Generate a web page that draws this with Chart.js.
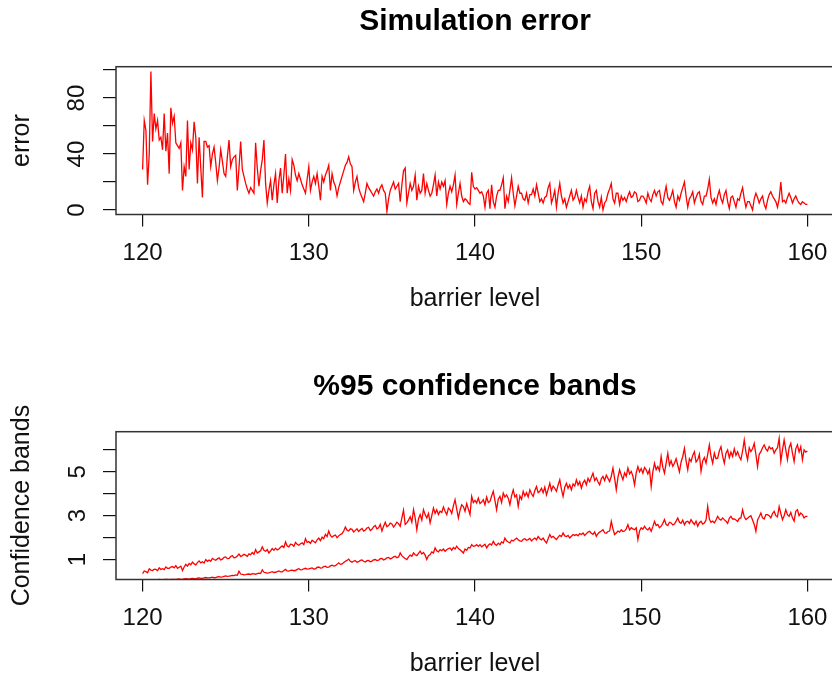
<!DOCTYPE html>
<html>
<head>
<meta charset="utf-8">
<title>Simulation error</title>
<script src="https://cdn.jsdelivr.net/npm/chart.js@4.4.1/dist/chart.umd.min.js"></script>
<style>
  html, body { margin: 0; padding: 0; background: #fff; }
  #page { position: relative; width: 832px; height: 677px; overflow: hidden; }
  #page canvas { position: absolute; left: 0; }
  #errorChart { top: 0; }
  #bandChart { top: 365px; }
</style>
</head>
<body>
<div id="page">
  <canvas id="errorChart" width="840" height="365"></canvas>
  <canvas id="bandChart" width="840" height="365"></canvas>
</div>
<script>
// barrier level goes 120 -> 160 in steps of 0.1
const barrierStart = 120;
const barrierStep = 0.1;

// simulation error (each row = 2 barrier units)
const simError = [
  29, 64, 57, 18, 40, 99, 49, 69, 58, 64, 50, 52, 43, 69, 42, 55, 26, 73, 62, 67,
  48, 46, 44, 48, 14, 31, 24, 64, 29, 48, 43, 63, 52, 19, 52, 30, 9, 49, 49, 45,
  46, 31, 40, 45, 34, 21, 30, 43, 35, 26, 24, 38, 50, 31, 36, 38, 39, 14, 30, 49,
  29, 24, 19, 15, 12, 16, 14, 12, 48, 30, 17, 28, 36, 50, 19, 5, 14, 21, 7, 18,
  26, 5, 21, 30, 12, 25, 40, 12, 22, 14, 36, 32, 25, 21, 26, 22, 18, 15, 12, 22,
  31, 14, 20, 24, 19, 26, 17, 7, 24, 20, 25, 28, 32, 14, 26, 20, 17, 10, 16, 20,
  24, 28, 32, 34, 38, 33, 31, 14, 20, 24, 16, 12, 9, 6, 12, 19, 16, 14, 12, 10,
  13, 15, 12, 16, 18, 14, 12, -1, 8, 14, 17, 20, 15, 17, 19, 6, 18, 28, 30, 5,
  12, 19, 14, 17, 25, 7, 17, 12, 14, 26, 12, 19, 14, 10, 12, 18, 25, 10, 20, 15,
  20, 17, 21, 4, 12, 17, 13, 18, 25, 4, 12, 19, 10, 6, 8, 7, 5, 4, 27, 17,
  15, 16, 14, 12, 13, 10, 2, 12, 14, 1, 18, 6, 2, 10, 14, 14, 18, 23, 1, 10,
  6, 14, 23, 12, 3, 10, 17, 12, 12, 8, 7, 12, 5, 11, 11, 15, 10, 18, 12, 6,
  8, 5, 9, 10, 16, 19, 5, 9, 14, 2, 12, 19, 10, 5, 8, 2, 6, 10, 14, 7,
  9, 14, 9, 5, 10, 2, 8, 6, 13, 17, 6, 1, 12, 14, 6, 2, 9, 0, 5, 7,
  12, 15, 19, 8, 5, 12, 12, 4, 10, 7, 9, 6, 10, 13, 9, 10, 13, 12, 6, 7,
  10, 10, 8, 5, 12, 8, 6, 11, 14, 10, 13, 14, 6, 4, 11, 17, 9, 7, 10, 14,
  6, 2, 10, 7, 12, 16, 20, 10, 2, 8, 10, 13, 5, 9, 12, 13, 6, 4, 10, 10,
  15, 22, 9, 5, 8, 4, 10, 14, 8, 5, 11, 14, 6, 1, 9, 10, 6, 2, 8, 7,
  12, 16, 8, 2, 6, 6, 3, 0, 8, 12, 9, 5, 8, 10, 4, 1, 7, 11, 13, 10,
  8, 6, 2, 8, 20, 6, 7, 5, 9, 12, 9, 5, 8, 10, 7, 5, 4, 6, 5, 4,
  4
];

// upper 95% band
const upperBand = [
  0.36, 0.48, 0.45, 0.40, 0.58, 0.52, 0.50, 0.56, 0.55, 0.50, 0.62, 0.55, 0.58, 0.54, 0.66, 0.60, 0.60, 0.66, 0.68, 0.62,
  0.72, 0.60, 0.65, 0.70, 0.50, 0.66, 0.78, 0.70, 0.82, 0.76, 0.88, 0.80, 0.76, 0.86, 0.94, 0.85, 0.90, 0.84, 1.00, 0.92,
  0.98, 0.92, 1.05, 1.00, 0.97, 1.03, 1.08, 0.98, 1.02, 1.10, 1.12, 1.04, 1.05, 1.14, 1.18, 1.08, 1.10, 1.16, 1.25, 1.14,
  1.18, 1.24, 1.20, 1.15, 1.26, 1.22, 1.32, 1.24, 1.45, 1.30, 1.35, 1.40, 1.58, 1.42, 1.38, 1.45, 1.30, 1.40, 1.50, 1.42,
  1.52, 1.44, 1.48, 1.56, 1.62, 1.55, 1.80, 1.62, 1.58, 1.70, 1.68, 1.60, 1.78, 1.70, 1.65, 1.72, 1.76, 1.68, 1.95, 1.78,
  1.82, 1.74, 1.88, 1.82, 1.76, 1.90, 1.98, 1.86, 2.02, 1.95, 2.15, 2.05, 2.30, 2.10, 2.02, 2.08, 2.12, 2.00, 2.08, 2.14,
  2.18, 2.30, 2.48, 2.34, 2.30, 2.40, 2.38, 2.26, 2.33, 2.40, 2.28, 2.36, 2.42, 2.30, 2.35, 2.44, 2.47, 2.32, 2.38, 2.50,
  2.55, 2.40, 2.45, 2.60, 2.30, 2.52, 2.70, 2.50, 2.55, 2.66, 2.62, 2.48, 2.58, 2.70, 2.64, 2.52, 2.90, 3.25, 2.60, 2.67,
  2.80, 2.95, 2.70, 3.27, 2.90, 2.36, 2.85, 3.05, 2.80, 3.27, 3.05, 2.90, 3.10, 2.67, 3.00, 3.35, 3.10, 3.27, 3.05, 3.20,
  3.15, 3.40, 3.20, 3.05, 3.35, 3.27, 3.10, 3.45, 3.73, 3.30, 2.90, 3.25, 3.50, 3.42, 3.20, 3.55, 3.30, 3.05, 3.88, 3.60,
  3.70, 3.58, 3.80, 3.55, 3.62, 3.73, 3.50, 3.85, 3.60, 3.65, 3.90, 4.11, 3.70, 3.27, 3.75, 3.88, 3.60, 4.03, 3.85, 3.95,
  3.80, 3.50, 3.90, 4.18, 3.85, 3.95, 3.42, 3.90, 3.75, 4.11, 3.90, 4.05, 3.85, 4.18, 4.00, 3.88, 4.15, 4.33, 4.05, 4.11,
  4.25, 4.05, 4.30, 3.95, 4.20, 4.48, 4.15, 4.35, 4.25, 4.11, 4.40, 4.64, 4.20, 3.88, 4.30, 4.48, 4.25, 4.40, 4.18, 4.45,
  4.35, 4.64, 4.40, 4.55, 4.26, 4.50, 4.62, 4.41, 4.70, 4.55, 4.75, 4.94, 4.60, 4.72, 4.55, 4.41, 4.68, 4.79, 4.60, 4.85,
  4.70, 4.56, 4.80, 5.17, 4.70, 4.18, 4.75, 5.09, 4.85, 4.64, 4.95, 4.80, 5.17, 4.90, 5.02, 4.80, 4.41, 4.95, 5.24, 5.00,
  5.15, 4.94, 5.20, 5.09, 4.90, 5.10, 4.33, 5.00, 5.39, 5.10, 5.24, 5.05, 5.70, 5.20, 4.94, 5.40, 5.85, 5.30, 5.50, 5.25,
  5.39, 5.60, 5.30, 5.00, 5.45, 5.70, 6.07, 5.50, 5.09, 5.60, 5.47, 5.75, 5.92, 5.45, 5.55, 5.80, 5.02, 5.50, 5.65, 5.39,
  5.80, 6.23, 5.70, 5.39, 5.85, 5.60, 5.62, 5.95, 6.15, 5.70, 5.39, 5.85, 6.00, 5.65, 5.90, 5.70, 6.05, 5.75, 5.92, 5.70,
  5.55, 5.95, 6.45, 5.90, 5.55, 6.10, 5.92, 6.05, 6.30, 5.80, 5.24, 5.80, 5.92, 6.10, 6.23, 6.05, 5.95, 6.15, 6.05, 6.10,
  5.85, 6.00, 6.10, 6.53, 5.47, 6.00, 6.45, 6.00, 5.55, 6.10, 6.30, 5.85, 5.47, 6.05, 6.23, 5.90, 6.15, 5.55, 6.00, 5.90,
  5.95
];

// lower 95% band
const lowerBand = [
  0.06, 0.07, 0.07, 0.06, 0.05, 0.07, 0.08, 0.07, 0.06, 0.08, 0.09, 0.08, 0.07, 0.09, 0.10, 0.09, 0.08, 0.10, 0.10, 0.09,
  0.09, 0.11, 0.12, 0.10, 0.10, 0.12, 0.13, 0.12, 0.11, 0.13, 0.14, 0.13, 0.12, 0.15, 0.16, 0.14, 0.14, 0.16, 0.18, 0.16,
  0.16, 0.18, 0.20, 0.17, 0.18, 0.21, 0.22, 0.20, 0.21, 0.23, 0.25, 0.23, 0.24, 0.26, 0.28, 0.27, 0.30, 0.28, 0.47, 0.34,
  0.32, 0.30, 0.31, 0.33, 0.34, 0.32, 0.36, 0.35, 0.33, 0.36, 0.38, 0.36, 0.53, 0.42, 0.40, 0.38, 0.39, 0.42, 0.45, 0.41,
  0.42, 0.45, 0.48, 0.44, 0.44, 0.50, 0.55, 0.48, 0.47, 0.51, 0.52, 0.49, 0.50, 0.55, 0.58, 0.53, 0.54, 0.58, 0.60, 0.56,
  0.57, 0.60, 0.62, 0.57, 0.58, 0.64, 0.66, 0.61, 0.62, 0.68, 0.70, 0.64, 0.65, 0.71, 0.74, 0.70, 0.72, 0.78, 0.85, 0.78,
  0.80, 0.86, 0.92, 0.96, 1.02, 0.92, 0.88, 0.93, 0.95, 0.88, 0.90, 0.96, 0.98, 0.92, 0.89, 0.95, 0.96, 0.90, 0.93, 0.99,
  1.00, 0.95, 0.97, 1.04, 1.05, 0.98, 1.02, 1.08, 1.10, 1.03, 1.06, 1.12, 1.15, 1.08, 1.12, 1.30, 1.18, 1.10, 1.05, 1.00,
  1.12, 1.20, 1.15, 1.30, 1.22, 1.18, 1.28, 1.38, 1.25, 1.32, 1.20, 1.00, 1.18, 1.23, 1.35, 1.30, 1.53, 1.40, 1.35, 1.45,
  1.40, 1.48, 1.38, 1.45, 1.50, 1.53, 1.42, 1.55, 1.48, 1.61, 1.50, 1.45, 1.38, 1.30, 1.48, 1.42, 1.55, 1.53, 1.68, 1.60,
  1.62, 1.68, 1.60, 1.68, 1.58, 1.64, 1.70, 1.53, 1.65, 1.72, 1.66, 1.83, 1.70, 1.65, 1.75, 1.68, 1.80, 1.75, 1.98, 1.85,
  1.80, 1.76, 1.88, 1.85, 1.92, 1.98, 1.90, 1.85, 1.83, 1.92, 1.95, 1.88, 1.91, 1.96, 1.85, 1.93, 1.98, 1.90, 2.05, 1.95,
  1.90, 1.98, 1.85, 1.76, 1.95, 2.14, 2.00, 2.06, 1.98, 1.91, 2.02, 2.10, 2.05, 2.21, 2.08, 2.05, 2.10, 1.98, 2.06, 2.14,
  2.10, 2.14, 2.08, 2.18, 2.14, 2.21, 2.10, 2.18, 2.25, 2.29, 2.20, 2.15, 2.26, 2.06, 2.18, 2.25, 2.30, 2.36, 2.22, 2.20,
  2.28, 2.30, 2.74, 2.40, 2.14, 2.21, 2.30, 2.25, 2.36, 2.28, 2.30, 2.40, 2.59, 2.35, 2.45, 2.40, 2.36, 2.45, 1.91, 2.30,
  2.45, 2.38, 2.52, 2.40, 2.35, 2.45, 2.29, 2.50, 2.74, 2.55, 2.60, 2.45, 2.52, 2.65, 2.82, 2.60, 2.55, 2.70, 2.67, 2.58,
  2.62, 2.75, 2.89, 2.70, 2.65, 2.80, 2.59, 2.72, 2.75, 2.65, 2.82, 2.70, 2.60, 2.75, 2.52, 2.68, 2.75, 2.62, 2.67, 2.80,
  3.42, 2.85, 2.70, 2.75, 2.67, 2.80, 2.97, 2.85, 2.80, 2.90, 2.82, 2.75, 2.65, 2.88, 2.97, 2.85, 2.85, 2.80, 2.74, 2.88,
  2.90, 3.27, 2.95, 2.82, 2.88, 2.95, 3.00, 2.80, 2.60, 2.29, 2.80, 2.95, 3.12, 2.90, 2.85, 3.05, 3.05, 3.00, 2.90, 3.10,
  3.20, 3.00, 2.95, 3.42, 3.10, 2.82, 3.00, 3.27, 3.05, 2.97, 3.15, 2.90, 2.75, 3.20, 3.27, 3.00, 3.12, 3.05, 2.90, 2.97,
  2.97
];

const xTicks = [120, 130, 140, 150, 160];
const errorTicks = [0, 20, 40, 60, 80, 100];
const errorLabels = [0, 40, 80];
const bandTicks = [1, 2, 3, 4, 5, 6];
const bandLabels = [1, 3, 5];

const barrierLevels = simError.map((_, i) => +(barrierStart + i * barrierStep).toFixed(1));

const FONT = "'Liberation Sans', Arial, Helvetica, sans-serif";
Chart.defaults.font.family = FONT;
Chart.defaults.color = '#000';

function toPoints(values) {
  return values.map((v, i) => ({ x: barrierLevels[i], y: v }));
}

// closed box round the plot region, like R's box()
const boxPlugin = {
  id: 'box',
  afterDraw(chart) {
    const a = chart.chartArea;
    const ctx = chart.ctx;
    ctx.save();
    ctx.strokeStyle = '#333';
    ctx.lineWidth = 1.5;
    ctx.strokeRect(a.left, a.top, a.right - a.left, a.bottom - a.top);
    ctx.restore();
  }
};

function makePanel(canvasId, p) {
  const datasets = p.series.map(s => ({
    data: toPoints(s),
    borderColor: '#ff0000',
    borderWidth: 1.3,
    pointRadius: 0,
    fill: false,
    tension: 0
  }));

  return new Chart(document.getElementById(canvasId), {
    type: 'line',
    data: { datasets },
    plugins: [boxPlugin],
    options: {
      responsive: false,
      animation: false,
      devicePixelRatio: 1,
      layout: { padding: { left: 0, right: 6, top: 0, bottom: 0 } },
      plugins: { legend: { display: false }, tooltip: { enabled: false } },
      scales: {
        x: {
          type: 'linear',
          position: 'bottom',
          min: 118.4,
          max: 161.6,
          afterBuildTicks: s => { s.ticks = xTicks.map(v => ({ value: v })); },
          afterFit: s => { s.height = 150.5; },
          grid: { drawOnChartArea: false, drawTicks: true, tickLength: 12, color: '#111', lineWidth: 1.2 },
          border: { display: false },
          ticks: { font: { size: 24 }, color: '#111', padding: 12, maxRotation: 0, autoSkip: false },
          title: { display: true, text: 'barrier level', font: { size: 25 }, color: '#111',
                   padding: { top: 0, bottom: 51 } }
        },
        y: {
          type: 'linear',
          position: 'left',
          min: p.yMin,
          max: p.yMax,
          afterBuildTicks: s => { s.ticks = p.yTicks.map(v => ({ value: v })); },
          afterFit: s => { s.width = 116; },
          grid: { drawOnChartArea: false, drawTicks: true, tickLength: 13, color: '#111', lineWidth: 1.2 },
          border: { display: false },
          ticks: {
            font: { size: 24 },
            color: '#111',
            minRotation: 90,
            maxRotation: 90,
            crossAlign: 'center',
            padding: p.tickPad,
            autoSkip: false,
            callback: v => p.yLabels.includes(v) ? String(v) : ''
          },
          title: { display: true, text: p.yTitle, font: { size: 25 }, color: '#111',
                   padding: { top: 7, bottom: 0 } }
        },
        head: {
          type: 'linear',
          position: 'top',
          min: 0,
          max: 1,
          afterFit: s => { s.height = 66.7; },
          grid: { display: false },
          border: { display: false },
          ticks: { display: false },
          title: { display: true, text: p.title, font: { size: 30, weight: 'bold' }, color: '#000',
                   padding: { top: 4, bottom: 0 } }
        }
      }
    }
  });
}

makePanel('errorChart', {
  title: 'Simulation error',
  yTitle: 'error',
  series: [simError],
  yMin: -3.2,
  yMax: 102.4,
  yTicks: errorTicks,
  yLabels: errorLabels,
  tickPad: 12
});

makePanel('bandChart', {
  title: '%95 confidence bands',
  yTitle: 'Confidence bands',
  series: [upperBand, lowerBand],
  yMin: 0.09,
  yMax: 6.83,
  yTicks: bandTicks,
  yLabels: bandLabels,
  tickPad: 18
});
</script>
</body>
</html>
